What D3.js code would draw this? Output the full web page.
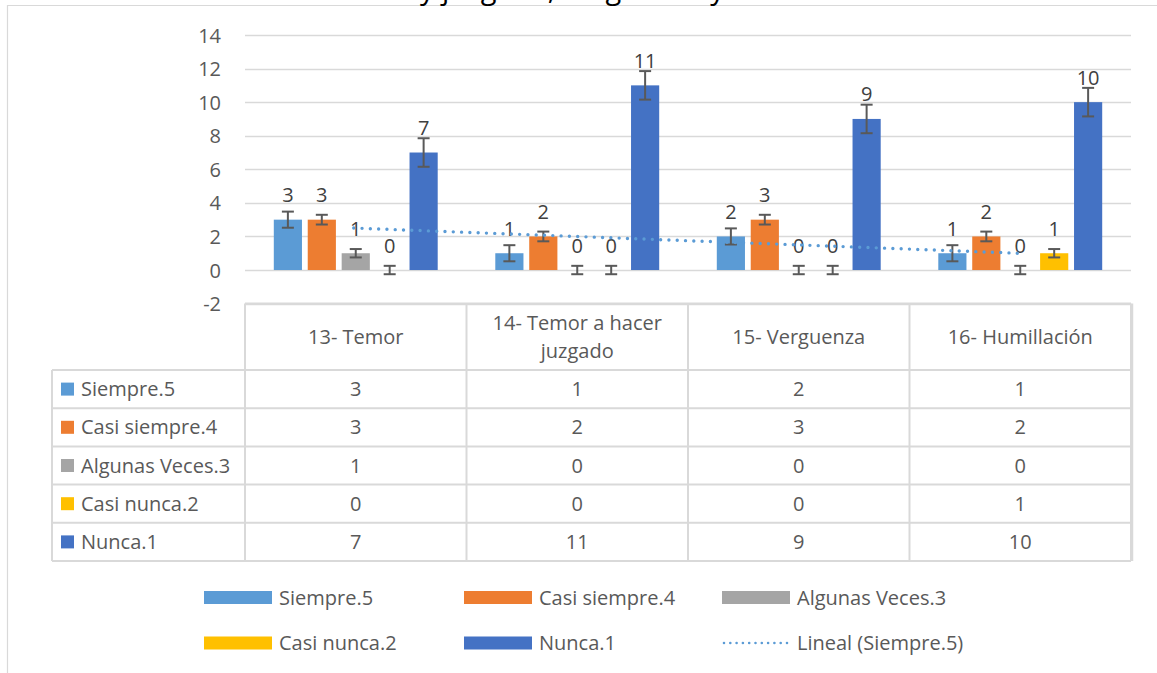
<!DOCTYPE html>
<html>
<head>
<meta charset="utf-8">
<script src="https://cdn.jsdelivr.net/npm/d3@7"></script>
<style>
  html, body { margin: 0; padding: 0; background: #ffffff; overflow: hidden; }
  svg { display: block; font-family: "Open Sans", "Noto Sans", sans-serif; }
</style>
</head>
<body>
<svg id="chart" width="1157" height="673"></svg>
<script>
// ---- data ----
const categories = ["13- Temor", "14- Temor a hacer juzgado", "15- Verguenza", "16- Humillación"];
const seriesNames = ["Siempre.5", "Casi siempre.4", "Algunas Veces.3", "Casi nunca.2", "Nunca.1"];
const siempre = [3, 1, 2, 1];
const casiSiempre = [3, 2, 3, 2];
const algunasVeces = [1, 0, 0, 0];
const casiNunca = [0, 0, 0, 1];
const nunca = [7, 11, 9, 10];
const errorAmounts = [0.48, 0.29, 0.25, 0.25, 0.85]; // per series
const yTicks = [-2, 0, 2, 4, 6, 8, 10, 12, 14];
const seriesColors = ["#5B9BD5", "#ED7D31", "#A5A5A5", "#FFC000", "#4472C4"];
const trendName = "Lineal (Siempre.5)";
const titleText = "Temor y juzgado, vergüenza y humillación";

const seriesValues = [siempre, casiSiempre, algunasVeces, casiNunca, nunca];

// ---- layout ----
const svg = d3.select("#chart");
const W = 1157, H = 673;
const plotLeft = 245, plotRight = 1131;
const textColor = "#595959";
const gridColor = "#d9d9d9";
const fontSize = 20;

// outer chart border (partially cropped)
svg.append("line").attr("x1", 7).attr("x2", W + 5).attr("y1", 5.5).attr("y2", 5.5)
  .attr("stroke", gridColor).attr("stroke-width", 1.2);
svg.append("line").attr("x1", 7.5).attr("x2", 7.5).attr("y1", 5).attr("y2", H + 5)
  .attr("stroke", gridColor).attr("stroke-width", 1.2);

// title, cropped at the top edge as in the reference (only descenders visible)
const title = svg.append("text").attr("y", -1.5).attr("font-size", 29).attr("fill", "#000")
  .attr("x", 0).text(titleText);
{
  const node = title.node();
  const idx = titleText.indexOf("y");
  const p = node.getStartPositionOfChar(idx);
  title.attr("x", 420 - p.x);
}

const y = d3.scaleLinear().domain([-2, 14]).range([303.6, 35]);
const x0 = d3.scaleBand().domain(categories).range([plotLeft, plotRight]).padding(0);
const bw = x0.bandwidth();
const x1 = d3.scaleBand().domain(seriesNames).range([bw * 0.13, bw * 0.87]).paddingInner(0.17).paddingOuter(0);

// gridlines
svg.append("g").selectAll("line").data(yTicks).join("line")
  .attr("x1", plotLeft).attr("x2", plotRight)
  .attr("y1", d => Math.round(y(d)) + 0.5).attr("y2", d => Math.round(y(d)) + 0.5)
  .attr("stroke", gridColor).attr("stroke-width", 1.5);

// y axis labels
const yAxis = d3.axisLeft(y).tickValues(yTicks).tickSize(0).tickPadding(0).tickFormat(d => String(d));
const yg = svg.append("g").attr("transform", `translate(221,0)`).call(yAxis);
yg.select(".domain").remove();
yg.selectAll("text").attr("font-size", fontSize).attr("fill", textColor)
  .attr("font-family", "'Open Sans', sans-serif").attr("dy", "0.35em");

// bars
const groups = svg.append("g").selectAll("g").data(categories).join("g")
  .attr("transform", d => `translate(${x0(d)},0)`);

groups.each(function(cat, ci) {
  const g = d3.select(this);
  seriesNames.forEach((s, si) => {
    const v = seriesValues[si][ci];
    const bx = x1(s);
    const bwid = x1.bandwidth();
    if (v !== 0) {
      g.append("rect").attr("x", bx).attr("width", bwid)
        .attr("y", y(Math.max(v, 0))).attr("height", Math.abs(y(v) - y(0)))
        .attr("fill", seriesColors[si]);
    }
    // error bar
    const e = errorAmounts[si];
    const cx = bx + bwid / 2;
    const eg = g.append("g").attr("stroke", "#595959").attr("stroke-width", 2);
    eg.append("line").attr("x1", cx).attr("x2", cx).attr("y1", y(v + e)).attr("y2", y(v - e));
    eg.append("line").attr("x1", cx - 6).attr("x2", cx + 6).attr("y1", y(v + e)).attr("y2", y(v + e));
    eg.append("line").attr("x1", cx - 6).attr("x2", cx + 6).attr("y1", y(v - e)).attr("y2", y(v - e));
    // data label
    g.append("text").attr("x", cx).attr("y", y(Math.max(v, 0)) - 24.5)
      .attr("text-anchor", "middle").attr("dy", "0.35em")
      .attr("font-size", fontSize).attr("fill", "#404040").text(v);
  });
});

// linear trendline of Siempre.5 (least squares, as the chart's "Lineal" trend)
{
  const xs = siempre.map((_, i) => i + 1);
  const mx = d3.mean(xs), my = d3.mean(siempre);
  const slope = d3.sum(xs, (xv, i) => (xv - mx) * (siempre[i] - my)) / d3.sum(xs, xv => (xv - mx) ** 2);
  const icpt = my - slope * mx;
  const pts = [[categories[0], 1], [categories[categories.length - 1], categories.length]];
  svg.append("path")
    .attr("d", d3.line()(pts.map(([c, xv]) => [x0(c) + bw / 2 - 2, y(icpt + slope * xv)])))
    .attr("stroke", "#5B9BD5").attr("stroke-width", 3.4).attr("fill", "none")
    .attr("stroke-linecap", "round").attr("stroke-dasharray", "0 8.3");
}

// ---- data table ----
const tableTop = y(-2);
const headerBottom = 370;
const rowH = 38.2;
const tableLeft = 52;
const tableBottom = headerBottom + rowH * seriesNames.length;
const tg = svg.append("g");

// vertical lines
const vlines = d3.range(categories.length + 1).map(i => plotLeft + i * bw);
tg.selectAll("line.v").data(vlines).join("line").attr("class", "v")
  .attr("x1", d => d).attr("x2", d => d).attr("y1", tableTop).attr("y2", tableBottom)
  .attr("stroke", gridColor).attr("stroke-width", 2);
tg.append("line").attr("x1", tableLeft).attr("x2", tableLeft).attr("y1", headerBottom).attr("y2", tableBottom)
  .attr("stroke", gridColor).attr("stroke-width", 2);
tg.append("line").attr("x1", plotRight + 1.5).attr("x2", plotRight + 1.5).attr("y1", tableTop).attr("y2", tableBottom)
  .attr("stroke", gridColor).attr("stroke-width", 1.5);
// horizontal lines
tg.append("line").attr("x1", plotLeft).attr("x2", plotRight).attr("y1", tableTop).attr("y2", tableTop)
  .attr("stroke", gridColor).attr("stroke-width", 2);
const hl = d3.range(seriesNames.length + 1).map(i => headerBottom + i * rowH);
tg.selectAll("line.h").data(hl).join("line").attr("class", "h")
  .attr("x1", tableLeft).attr("x2", plotRight).attr("y1", d => d).attr("y2", d => d)
  .attr("stroke", gridColor).attr("stroke-width", 2);

// header labels (wrapped)
categories.forEach(cat => {
  const cx = x0(cat) + bw / 2;
  const t = tg.append("text").attr("text-anchor", "middle").attr("font-size", fontSize).attr("fill", textColor);
  const words = cat.split(" ");
  let lines = [], line = [];
  const probe = tg.append("text").attr("font-size", fontSize);
  words.forEach(w => {
    const test = line.concat([w]).join(" ");
    probe.text(test);
    if (probe.node().getComputedTextLength() > bw - 24 && line.length) {
      lines.push(line.join(" "));
      line = [w];
    } else line.push(w);
  });
  lines.push(line.join(" "));
  probe.remove();
  const lh = 28;
  const midY = (tableTop + headerBottom) / 2;
  lines.forEach((l, i) => {
    t.append("tspan").attr("x", cx).attr("y", midY + (i - (lines.length - 1) / 2) * lh).attr("dy", "0.35em").text(l);
  });
});

// rows
seriesNames.forEach((s, si) => {
  const cy = headerBottom + si * rowH + rowH / 2;
  tg.append("rect").attr("x", 61).attr("y", cy - 6.5).attr("width", 13).attr("height", 13).attr("fill", seriesColors[si]);
  tg.append("text").attr("x", 81).attr("y", cy).attr("dy", "0.35em").attr("font-size", fontSize).attr("fill", textColor).text(s);
  categories.forEach((cat, ci) => {
    tg.append("text").attr("x", x0(cat) + bw / 2).attr("y", cy).attr("dy", "0.35em")
      .attr("text-anchor", "middle").attr("font-size", fontSize).attr("fill", textColor)
      .text(seriesValues[si][ci]);
  });
});

// ---- legend ----
const legendItems = seriesNames.map((s, i) => ({ name: s, color: seriesColors[i], type: "bar" }))
  .concat([{ name: trendName, color: "#5B9BD5", type: "line" }]);
const legCols = [204, 464, 722];
const legRows = [597.5, 643];
const lg = svg.append("g");
legendItems.forEach((it, i) => {
  const lx = legCols[i % 3], ly = legRows[Math.floor(i / 3)];
  if (it.type === "bar") {
    lg.append("rect").attr("x", lx).attr("y", ly - 6.5).attr("width", 68).attr("height", 13).attr("fill", it.color);
  } else {
    lg.append("line").attr("x1", lx + 2).attr("x2", lx + 68).attr("y1", ly).attr("y2", ly)
      .attr("stroke", it.color).attr("stroke-width", 2.6).attr("stroke-linecap", "round").attr("stroke-dasharray", "0 6.3");
  }
  lg.append("text").attr("x", lx + 75).attr("y", ly).attr("dy", "0.35em")
    .attr("font-size", fontSize).attr("fill", textColor).text(it.name);
});
</script>
</body>
</html>
